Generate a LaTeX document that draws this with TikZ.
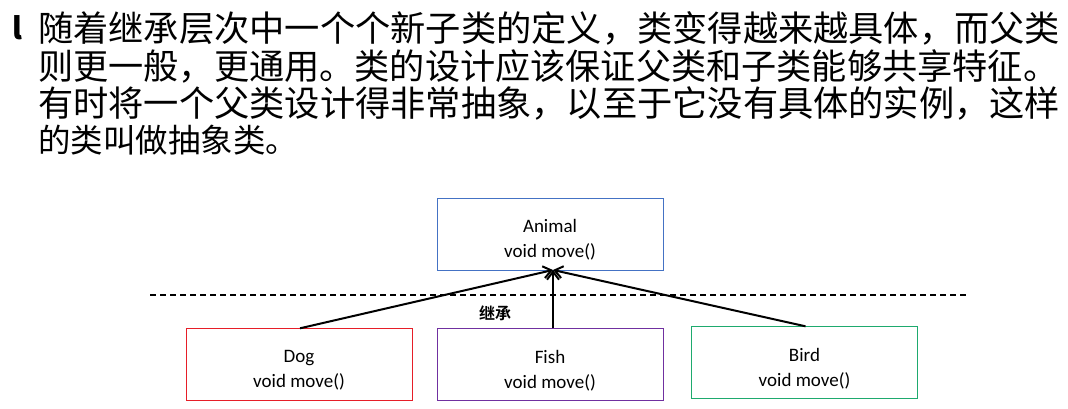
\documentclass[tikz,border=0pt]{standalone}
\usepackage{fontspec}
\setmainfont{Carlito}
\newfontfamily\cjk{Noto Sans CJK SC}
\newfontfamily\cjkb{Noto Sans CJK SC Bold}
\usetikzlibrary{arrows.meta}
\begin{document}
\begin{tikzpicture}[x=1pt,y=-1pt,
  cls/.style={draw,minimum width=226pt,minimum height=72pt,align=center,font=\fontsize{19}{25}\selectfont,inner sep=0pt},
  inr/.style={align=center,font=\fontsize{19}{25}\selectfont,inner sep=0pt},
  txt/.style={anchor=west,inner sep=0pt,font=\cjk\fontsize{35}{37}\selectfont},
  inh/.style={line width=2pt,-{Straight Barb[length=8pt,width=12pt]}}]
\useasboundingbox (0,0) rectangle (1068,409);
\node[anchor=west,inner sep=0pt,font=\cjk\bfseries\fontsize{30}{30}\selectfont] (b) at (12,28) {l};
\node[txt] (l1) at (38,28) {\resizebox{1022pt}{!}{随着继承层次中一个个新子类的定义，类变得越来越具体，而父类}};
\node[txt] (l2) at (38,66) {\resizebox{1020pt}{!}{则更一般，更通用。类的设计应该保证父类和子类能够共享特征。}};
\node[txt] (l3) at (38,103) {\resizebox{1022pt}{!}{有时将一个父类设计得非常抽象，以至于它没有具体的实例，这样}};
\node[txt] (l4) at (38,140) {\scalebox{0.928}{的类叫做抽象类。}};
\node[cls,draw={rgb,255:red,68;green,114;blue,196}] (animal) at (550,234) {};
\node[cls,draw={rgb,255:red,230;green,30;blue,40}] (dog) at (299,364.5) {};
\node[cls,draw={rgb,255:red,112;green,48;blue,160}] (fish) at (550,364.5) {};
\node[cls,draw={rgb,255:red,30;green,170;blue,110}] (bird) at (804.5,362.5) {};
\node[inr] (ta) at ([yshift=-6pt]animal.center) {Animal\\void move()};
\node[inr] (td) at ([yshift=-6pt]dog.center) {Dog\\void move()};
\node[inr] (tf) at ([yshift=-6pt]fish.center) {Fish\\void move()};
\node[inr] (tb) at ([yshift=-6pt]bird.center) {Bird\\void move()};
\coordinate (d1) at (150,295);
\coordinate (d2) at (966,295);
\draw[line width=1.8pt,dash pattern=on 6pt off 4pt] (d1) -- (d2);
\coordinate (tip) at (553,270);
\draw[inh] (dog.north) ++(1,0) -- (tip);
\draw[inh] (fish.north) ++(3,0) -- (tip);
\draw[inh] (bird.north) ++(1,0) -- (tip);
\node[font=\cjkb\fontsize{16}{16}\selectfont] (lab) at (495,313) {继承};
\end{tikzpicture}
\end{document}
